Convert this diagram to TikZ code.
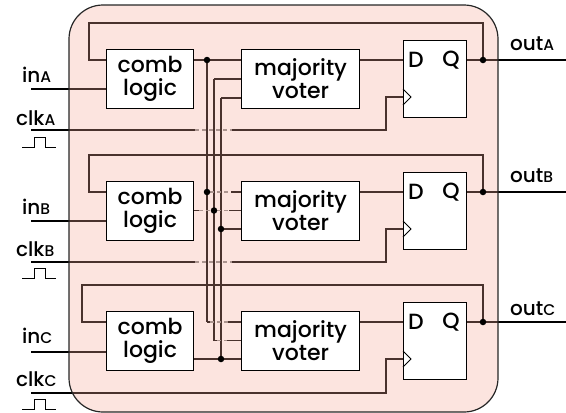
\documentclass[tikz,border=0pt]{standalone}
\usepackage{fontspec}
\setmainfont{Poppins Medium}
\definecolor{pinkov}{RGB}{244,167,150}
\newcommand\lsc[1]{{\fontsize{15.5}{16}\selectfont #1}}
\begin{document}
\begin{tikzpicture}[x=1pt,y=-1pt,
  wire/.style={line width=1.2pt, black, line join=miter},
  xing/.style={line width=1.2pt, black!45, dash pattern=on 4pt off 3pt},
  blk/.style={draw=black, fill=white, line width=1.2pt, inner sep=0pt, anchor=north west, align=center, font=\fontsize{22}{23}\selectfont},
  cmb/.style={blk, minimum width=87pt, minimum height=59pt},
  vot/.style={blk, minimum width=118pt, minimum height=59pt},
  ffb/.style={blk, minimum width=63pt, minimum height=77pt},
  pin/.style={inner sep=0pt, font=\fontsize{22}{23}\selectfont},
  dot/.style={circle, fill=black, inner sep=0pt, minimum size=6.5pt},
  lbl/.style={inner sep=0pt, anchor=base west, font=\fontsize{20}{22}\selectfont},
  pulse/.style={line width=1pt, black}]
\useasboundingbox (0,0) rectangle (566,413);

% ---------- wires (drawn under the translucent board) ----------
% block A
\draw[wire] (31,89) -- (106,89);
\draw[wire] (483,60) -- (483,23) -- (89,23) -- (89,60) -- (106,60);
\draw[wire] (466,60) -- (566,60);
\draw[wire] (193,60) -- (241,60);
\draw[wire] (359,60) -- (403,60);
\draw[wire] (214,79) -- (241,79);
\draw[wire] (221,98) -- (241,98);
\draw[wire] (31,130) -- (195,130);
\draw[xing] (195,130) -- (232,130);
\draw[wire] (232,130) -- (386,130) -- (386,97) -- (403,97);
% buses
\draw[wire] (207,60) -- (207,322);
\draw[wire] (214,79) -- (214,340.5);
\draw[wire] (221,98) -- (221,359);
% block B
\draw[wire] (31,221) -- (106,221);
\draw[wire] (483,192) -- (483,155) -- (89,155) -- (89,192) -- (106,192);
\draw[wire] (466,192) -- (566,192);
\draw[wire] (359,192) -- (403,192);
\draw[wire] (207,192) -- (210,192);
\draw[xing] (210,192) -- (231,192);
\draw[wire] (231,192) -- (241,192);
\draw[wire] (193,210.5) -- (199,210.5);
\draw[xing] (199,210.5) -- (211,210.5);
\draw[wire] (211,210.5) -- (217,210.5);
\draw[xing] (217,210.5) -- (229,210.5);
\draw[wire] (229,210.5) -- (241,210.5);
\draw[wire] (221,229) -- (241,229);
\draw[wire] (31,262) -- (195,262);
\draw[xing] (195,262) -- (232,262);
\draw[wire] (232,262) -- (386,262) -- (386,229) -- (403,229);
% block C
\draw[wire] (31,352) -- (106,352);
\draw[wire] (483,322) -- (483,285) -- (82,285) -- (82,322) -- (106,322);
\draw[wire] (466,322) -- (566,322);
\draw[wire] (359,322) -- (403,322);
\draw[wire] (207,322) -- (210,322);
\draw[xing] (210,322) -- (228,322);
\draw[wire] (228,322) -- (241,322);
\draw[wire] (214,340.5) -- (217,340.5);
\draw[xing] (217,340.5) -- (227,340.5);
\draw[wire] (227,340.5) -- (241,340.5);
\draw[wire] (193,359) -- (241,359);
\draw[wire] (31,393) -- (386,393) -- (386,359) -- (403,359);

% ---------- board ----------
\draw[fill=pinkov, fill opacity=0.3, draw=black!85, line width=1.2pt, rounded corners=34pt] (69,5) rectangle (498,412);

% ---------- blocks ----------
\node[cmb] (cA) at (106,49) {comb\\logic};
\node[cmb] (cB) at (106,181) {comb\\logic};
\node[cmb] (cC) at (106,311) {comb\\logic};
\node[vot] (vA) at (241,49) {majority\\voter};
\node[vot] (vB) at (241,181) {majority\\voter};
\node[vot] (vC) at (241,311) {majority\\voter};
\node[ffb] (fA) at (403,40) {};
\node[ffb] (fB) at (403,172) {};
\node[ffb] (fC) at (403,302) {};
\foreach \f/\y/\c in {fA/60/97, fB/192/229, fC/322/359}{
  \node[pin] (\f D) at (416,\y) {D};
  \node[pin] (\f Q) at (451,\y) {Q};
  \draw[line width=1pt] (403,\c-8) -- (411,\c) -- (403,\c+8);
}

% ---------- junction dots ----------
\foreach \p in {(207,60),(483,60),(207,192),(214,210.5),(221,229),(483,192),(221,359),(483,322)}
  \node[dot] at \p {};

% ---------- labels ----------
\node[lbl] (lia) at (22,82) {in\lsc{A}};
\node[lbl] (lca) at (16,125) {clk\lsc{A}};
\node[lbl] (lib) at (22,214) {in\lsc{B}};
\node[lbl] (lcb) at (16,256) {clk\lsc{B}};
\node[lbl] (lic) at (22,343) {in\lsc{C}};
\node[lbl] (lcc) at (16,386) {clk\lsc{C}};
\node[lbl] (loa) at (510,50) {out\lsc{A}};
\node[lbl] (lob) at (510,182) {out\lsc{B}};
\node[lbl] (loc) at (510,315) {out\lsc{C}};

% ---------- clock pulse symbols ----------
\foreach \b in {147,278,409}{
  \draw[pulse] (22,\b) -- (34,\b) -- (34,\b-10) -- (45,\b-10) -- (45,\b) -- (56,\b);
}
\end{tikzpicture}
\end{document}
